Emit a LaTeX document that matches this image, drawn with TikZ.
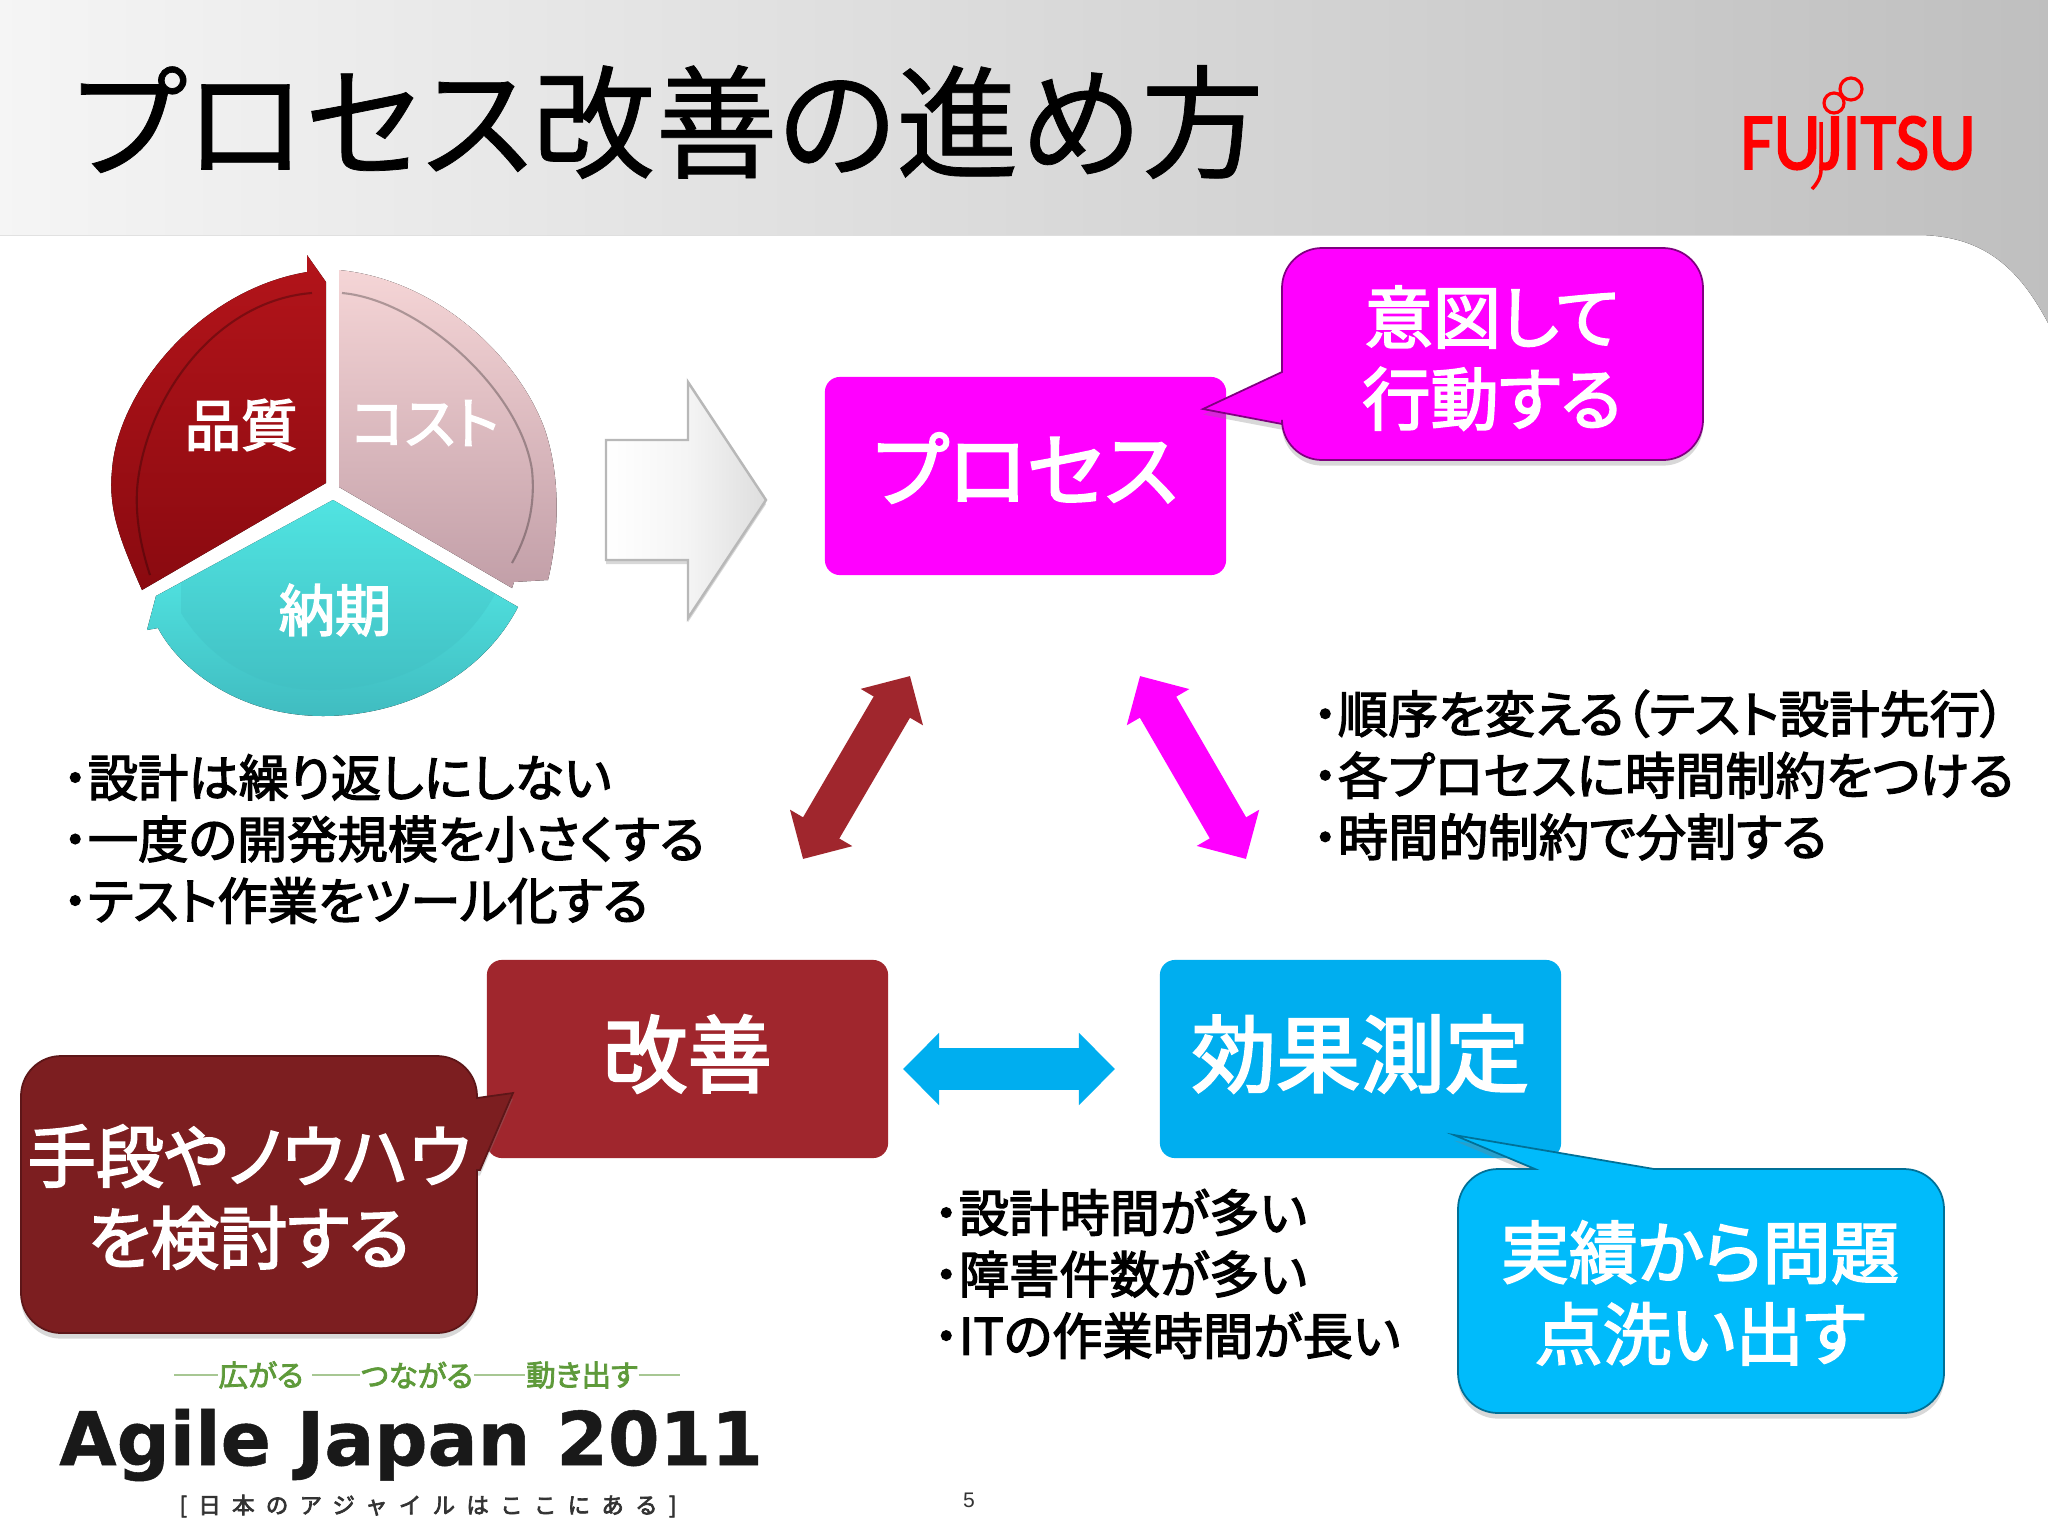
\documentclass[tikz,border=0pt]{standalone}
\usepackage{fontspec}
\usetikzlibrary{arrows.meta,shadows,fadings}
\setmainfont{Noto Sans CJK JP}[RawFeature={+palt}]
\newfontfamily\jptitle{Noto Sans CJK JP}[RawFeature={+palt},FakeBold=0.6]
\newfontfamily\jpm{Noto Sans CJK JP}[RawFeature={+palt},FakeBold=2.6]
\newfontfamily\jpb{Noto Sans CJK JP}[RawFeature={+palt},FakeBold=5]
\newfontfamily\jpw{Noto Sans CJK JP}[LetterSpace=50,FakeBold=3]
\newfontfamily\agile{DejaVu Sans}[FakeBold=0.7]
\newfontfamily\fuji{Carlito}[FakeBold=2.4]
\newfontfamily\pnum{Liberation Sans}
\newcommand{\bu}{{\jpb ･}}
\definecolor{magB}{HTML}{FF00FF}
\definecolor{redB}{HTML}{A0262D}
\definecolor{blueB}{HTML}{00AEEF}
\definecolor{redC}{HTML}{7C1E20}
\definecolor{blueC}{HTML}{00BBFB}
\definecolor{logoG}{HTML}{5E9A3A}
\definecolor{redT}{HTML}{B3141A}
\definecolor{redU}{HTML}{8A0A10}
\definecolor{pinkT}{HTML}{F5D5D6}
\definecolor{pinkU}{HTML}{C29FA8}
\definecolor{tealT}{HTML}{58F5F0}
\definecolor{tealU}{HTML}{40BCC0}
\tikzset{
  procbox/.style={rounded corners=0.15cm},
  bubble/.style={rounded corners=0.4cm,line width=0.5pt,drop shadow={shadow xshift=0pt,shadow yshift=-1.6pt,opacity=.3}},
  boxlabel/.style={text=white,font=\jpm\fontsize{24}{28}\selectfont,inner sep=0pt},
  bubbletext/.style={text=white,font=\jpm\fontsize{19.4}{23.2}\selectfont,align=center,inner sep=0pt},
  pielabel/.style={text=white,font=\jpm\fontsize{16}{18}\selectfont,inner sep=0pt},
  listtext/.style={anchor=west,align=left,inner sep=0pt,font=\jpm\fontsize{14.3}{17.5}\selectfont},
  dbl/.style={{Triangle[length=0.36cm,width=0.70cm]}-{Triangle[length=0.36cm,width=0.70cm]},line width=0.42cm},
  innerarc/.style={line width=0.6pt,draw opacity=.28},
  taglabel/.style={inner sep=0pt,text=logoG,font=\jpm\fontsize{8.4}{9}\selectfont},
  tagline/.style={logoG!55!white,line width=0.5pt},
}
\begin{document}
\begin{tikzpicture}[x=0.01cm,y=-0.01cm]
\useasboundingbox (0,0) rectangle (2048,1536);
\fill[white] (0,0) rectangle (2048,1536);
% header band
\fill[left color=black!4,right color=black!25] (0,0) -- (2048,0) -- (2048,323) .. controls (2020,270) and (1985,235) .. (1917,235) -- (0,235) -- cycle;
\node[anchor=west,inner sep=0pt,font=\jptitle\fontsize{34.9}{38}\selectfont] (title) at (72,122) {プロセス改善の進め方};
% Fujitsu logo
\node[anchor=base,inner sep=0pt,text=red,font=\fuji\fontsize{23}{23}\selectfont] (logo) at (1858,169) {\scalebox{.9}[1]{FUJITSU}};
\draw[red,line width=1pt] (1821,122) -- (1821,170) .. controls (1821,178) and (1816,185) .. (1812,189);
\draw[red,line width=0.9pt] (1851,89) circle [radius=11];
\draw[red,line width=0.9pt] (1834,103) circle [radius=10];
% pie: quality
\fill[top color=redT,bottom color=redU] (326,483) -- (142,590) .. controls (120,540) and (108,510) .. (112,470) .. controls (118,390) and (200,290) .. (307,272) -- (307,255) -- (326,282) -- cycle;
\draw[black,innerarc] (312,293) .. controls (220,300) and (150,390) .. (138,480) .. controls (134,510) and (140,545) .. (150,575);
% pie: cost
\fill[top color=pinkT,bottom color=pinkU] (339,270) .. controls (440,280) and (520,360) .. (545,430) .. controls (560,475) and (560,530) .. (548,580) -- (514,582) -- (512,588) -- (339,487) -- cycle;
\draw[black,innerarc] (342,293) .. controls (420,300) and (520,390) .. (532,470) .. controls (536,510) and (525,540) .. (512,563);
% pie: delivery
\fill[top color=tealT,bottom color=tealU] (333,500) -- (518,607) .. controls (480,680) and (400,716) .. (323,716) .. controls (240,716) and (180,670) .. (158,628) -- (147,630) -- (156,596) -- cycle;
\fill[tealU,opacity=.3] (333,500) -- (495,594) .. controls (460,660) and (390,690) .. (319,690) .. controls (260,690) and (210,660) .. (181,613) -- (181,582) -- cycle;
\node[pielabel] (quality) at (241,425) {品質};
\node[pielabel] (cost) at (425,423) {コスト};
\node[pielabel] (delivery) at (335,610) {納期};
% block arrow
\draw[left color=white,right color=black!13,middle color=white!96!black,draw=black!28,line width=0.7pt,drop shadow={shadow xshift=0pt,shadow yshift=-1.2pt,opacity=.3}] (606,440) -- (688,440) -- (688,382) -- (766,500) -- (688,618) -- (688,560) -- (606,560) -- cycle;
% process boxes
\node[procbox,fill=magB,minimum width=4.01cm,minimum height=1.98cm] (proc) at (1025.5,476) {};
\node[boxlabel,font=\jpm\fontsize{23.1}{28}\selectfont] (proclabel) at ([yshift=.08cm]proc.center) {プロセス};
\node[procbox,fill=redB,minimum width=4.01cm,minimum height=1.98cm] (kaizen) at (687.5,1059) {};
\node[boxlabel] (kaizenlabel) at ([yshift=.05cm]kaizen.center) {改善};
\node[procbox,fill=blueB,minimum width=4.01cm,minimum height=1.98cm] (measure) at (1360.5,1059) {};
\node[boxlabel] (measurelabel) at ([yshift=.05cm]measure.center) {効果測定};
% bubbles
\draw[bubble,fill=magB,draw=magB!50!black] (1282,330) -- (1282,248) -- (1703,248) -- (1703,460) -- (1282,460) [sharp corners] -- (1282,424) -- (1203,409) -- (1282,372) [rounded corners=0.4cm] -- cycle;
\node[bubbletext] (intent) at (1492,358) {意図して\\行動する};
\draw[bubble,fill=redC,draw=redC!75!black] (249,1056) -- (477,1056) [sharp corners] -- (477,1098) -- (513,1093) -- (480,1170) -- (477,1170) [rounded corners=0.4cm] -- (477,1333) -- (21,1333) -- (21,1056) -- cycle;
\node[bubbletext] (means) at (249,1197) {手段やノウハウ\\を検討する};
\draw[bubble,fill=blueC,draw=blueC!60!black] (1700,1169) -- (1944,1169) -- (1944,1413) -- (1458,1413) -- (1458,1169) [sharp corners] -- (1535,1169) -- (1454,1135) -- (1654,1169) [rounded corners=0.4cm] -- cycle;
\node[bubbletext] (results) at (1700,1293) {実績から問題\\点洗い出す};
% double arrows
\coordinate (ba) at (910,676); \coordinate (bb) at (803,859);
\coordinate (ma) at (1140,676); \coordinate (mb) at (1246,859);
\coordinate (ca) at (903,1069); \coordinate (cb) at (1115,1069);
\draw[dbl,draw=redB,fill=redB] (ba) -- (bb);
\draw[dbl,draw=magB,fill=magB] (ma) -- (mb);
\draw[dbl,draw=blueB,fill=blueB] (ca) -- (cb);
% lists
\node[listtext] (list1) at (62,839) {\bu 設計は繰り返しにしない\\\bu 一度の開発規模を小さくする\\\bu テスト作業をツール化する};
\node[listtext] (list2) at (1312,775) {\bu 順序を変える（テスト設計先行）\\\bu 各プロセスに時間制約をつける\\\bu 時間的制約で分割する};
\node[listtext] (list3) at (933,1274) {\bu 設計時間が多い\\\bu 障害件数が多い\\\bu ITの作業時間が長い};
% Agile Japan logo
\node[taglabel] (t1) at (261,1375) {広がる};
\node[taglabel] (t2) at (417,1375) {つながる};
\node[taglabel] (t3) at (582,1375) {動き出す};
\coordinate (tl) at (174,1375); \coordinate (tr) at (680,1375);
\draw[tagline] (tl) -- (t1.west);
\draw[tagline] ([xshift=.08cm]t1.east) -- (t2.west);
\draw[tagline] (t2.east) -- (t3.west);
\draw[tagline] (t3.east) -- (tr);
\node[inner sep=0pt,text=black!90,font=\agile\bfseries\fontsize{21.1}{24}\selectfont] (agile) at (411,1445) {Agile Japan 2011};
\node[inner sep=0pt,text=black!80,font=\jpw\fontsize{6.4}{8}\selectfont] (tag) at (428,1506) {[日本のアジャイルはここにある]};
\node[inner sep=0pt,text=black!80,font=\pnum\fontsize{6}{7}\selectfont] (page) at (969,1500) {5};
\end{tikzpicture}
\end{document}
